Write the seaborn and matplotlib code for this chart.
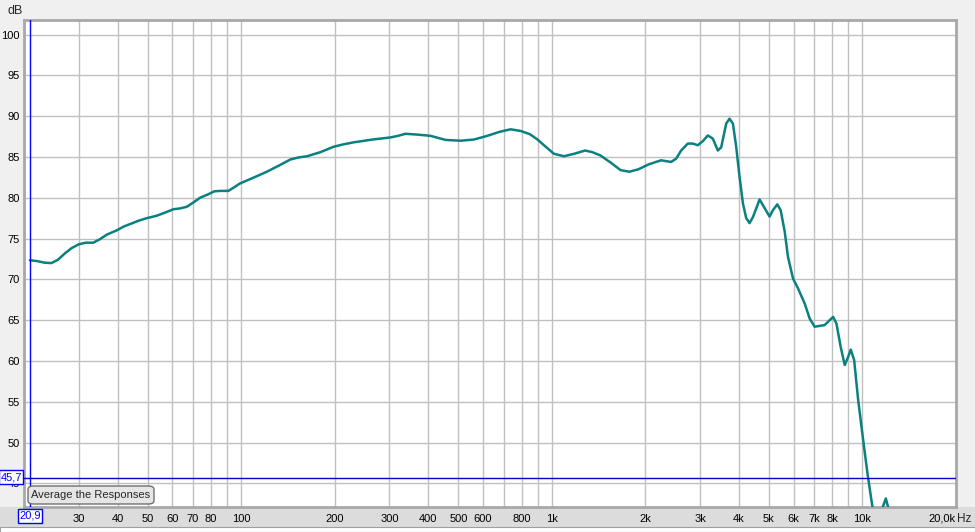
import matplotlib
matplotlib.use("Agg")
import matplotlib.pyplot as plt
from matplotlib.patches import Rectangle, FancyBboxPatch
import seaborn as sns
import pandas as pd

# ---- data ----
freq_hz = [20.9, 22.0, 23.3, 24.5, 25.7, 27.1, 28.5, 30, 31.6, 33.4, 35, 37, 39.7, 42, 44,
           46.8, 49.6, 53.4, 57, 60.5, 63.5, 66.8, 70, 73.7, 78, 82, 85.5, 91, 95, 99,
           110, 121, 133, 144, 153, 163, 180, 198, 213, 230, 265, 302, 320, 338, 370,
           407, 455, 509, 562, 620, 680, 737, 794, 850, 899, 960, 1016, 1094, 1180,
           1280, 1350, 1433, 1550, 1664, 1776, 1900, 2050, 2247, 2420, 2513, 2608,
           2740, 2843, 2951, 3063, 3179, 3299, 3423, 3510, 3642, 3733, 3828, 3922,
           4020, 4123, 4225, 4330, 4441, 4665, 4840, 5023, 5152, 5319, 5452, 5617,
           5758, 5977, 6201, 6515, 6761, 7017, 7283, 7556, 7843, 8043, 8244, 8511,
           8769, 8993, 9168, 9402, 9686, 10052, 10378, 10746, 11160, 11550, 11890,
           12300, 12900]
spl_db = [72.35, 72.25, 72.05, 72.0, 72.4, 73.2, 73.85, 74.3, 74.5, 74.5, 74.9, 75.5, 76.0, 76.5, 76.8,
          77.2, 77.5, 77.8, 78.2, 78.6, 78.7, 78.9, 79.4, 80.0, 80.4, 80.8, 80.85, 80.85, 81.3, 81.75,
          82.5, 83.2, 84.0, 84.7, 84.95, 85.1, 85.6, 86.25, 86.55, 86.8, 87.15, 87.4, 87.6, 87.85, 87.75,
          87.6, 87.1, 87.0, 87.15, 87.6, 88.1, 88.4, 88.2, 87.8, 87.15, 86.2, 85.4, 85.1, 85.4,
          85.8, 85.6, 85.2, 84.3, 83.4, 83.2, 83.5, 84.1, 84.6, 84.4, 84.8, 85.8,
          86.65, 86.65, 86.45, 86.95, 87.65, 87.25, 85.8, 86.2, 89.1, 89.7, 89.1, 86.25,
          82.6, 79.3, 77.5, 76.9, 77.65, 79.8, 78.75, 77.7, 78.5, 79.2, 78.5, 75.9,
          72.75, 70.1, 68.9, 67.05, 65.2, 64.2, 64.3, 64.4, 65.0, 65.4, 64.6, 61.7,
          59.5, 60.5, 61.4, 60.1, 55.2, 50.3, 46.2, 42.3, 40.0, 41.8, 43.15,
          41.0, 37.0]

x_tick_vals = [30, 40, 50, 60, 70, 80, 100, 200, 300, 400, 500, 600, 800, 1000,
               2000, 3000, 4000, 5000, 6000, 7000, 8000, 10000, 20000]
x_tick_labels = ["30", "40", "50", "60", "70", "80", "100", "200", "300", "400", "500",
                 "600", "800", "1k", "2k", "3k", "4k", "5k", "6k", "7k", "8k", "10k", "20,0k"]
x_grid_vals = [30, 40, 50, 60, 70, 80, 90, 100, 200, 300, 400, 500, 600, 700, 800, 900,
               1000, 2000, 3000, 4000, 5000, 6000, 7000, 8000, 9000, 10000]
y_tick_vals = [45, 50, 55, 60, 65, 70, 75, 80, 85, 90, 95, 100]

cursor_freq = 20.9
cursor_db = 45.7

df = pd.DataFrame({"freq": freq_hz, "db": spl_db})

# ---- figure ----
W, H = 975, 532
sns.set_style("white")
plt.rcParams['font.family'] = ['Liberation Sans', 'DejaVu Sans']
fig = plt.figure(figsize=(W / 100, H / 100), dpi=100, facecolor="#f0f0f0")

def fx(x):
    return x / W

def fy(y):
    return 1 - y / H

# bottom label band (behind the axes and its tick labels)
fig.patches.append(Rectangle((0, fy(527)), 1, (527 - 507) / H, transform=fig.transFigure,
                             facecolor="#dcdcdc", edgecolor="none", zorder=-2))
fig.patches.append(Rectangle((0, 0), 1, fy(527), transform=fig.transFigure,
                             facecolor="#ffffff", edgecolor="#a0a0a0", lw=0.8, zorder=-2))

L, R, T, B = 24, 956, 20, 507
ax = fig.add_axes([fx(L), fy(B), (R - L) / W, (B - T) / H])
ax.set_facecolor("white")

ax.set_xscale("log")
ax.set_xlim(20, 20000)
ax.set_ylim(42.1, 101.8)

for g in x_grid_vals:
    ax.axvline(g, color="#c0c0c0", lw=1, zorder=1)
for g in y_tick_vals:
    ax.axhline(g, color="#c0c0c0", lw=1, zorder=1)

sns.lineplot(data=df, x="freq", y="db", ax=ax, color="#0a8080", lw=1.8, zorder=3,
             estimator=None, sort=False)

ax.axvline(cursor_freq, color="#0000ff", lw=1, zorder=4)
ax.axhline(cursor_db, color="#0000c8", lw=1, zorder=4)

ax.set_xticks(x_tick_vals)
ax.set_xticklabels(x_tick_labels)
ax.xaxis.set_minor_locator(matplotlib.ticker.NullLocator())
ax.set_yticks(y_tick_vals)
ax.set_yticklabels([str(v) for v in y_tick_vals])
ax.tick_params(axis="x", length=0, pad=5, labelsize=8, colors="black")
ax.tick_params(axis="y", length=0, pad=3, labelsize=8, colors="black")
for lab in ax.get_xticklabels():
    if lab.get_text() == "20,0k":
        lab.set_horizontalalignment("right")
ax.set_xlabel("")
ax.set_ylabel("")
ax.grid(False)

for side in ["top", "right", "bottom", "left"]:
    ax.spines[side].set_color("#a8a8a8")
    ax.spines[side].set_linewidth(2)
    ax.spines[side].set_visible(True)

# axis unit labels
fig.text(fx(7), fy(11), "dB", fontsize=9, va="center", ha="left")
fig.text(fx(957), fy(519), "Hz", fontsize=8.5, va="center", ha="left")

# cursor value boxes
fig.text(fx(30), fy(516), "20,9", fontsize=8, color="#0000ff", ha="center", va="center",
         bbox=dict(boxstyle="square,pad=0.15", fc="white", ec="#0000ff", lw=1), zorder=12)
fig.text(fx(11), fy(477), "45,7", fontsize=8, color="#0000ff", ha="center", va="center",
         bbox=dict(boxstyle="square,pad=0.15", fc="white", ec="#0000ff", lw=1), zorder=12)

# button
btn = FancyBboxPatch((fx(28), fy(504)), (154 - 28) / W, (504 - 486) / H,
                     boxstyle="round,pad=0,rounding_size=0.006", transform=fig.transFigure,
                     facecolor="#e6e6e6", edgecolor="#707070", lw=1, zorder=10)
fig.patches.append(btn)
fig.text(fx(91), fy(495.5), "Average the Responses", fontsize=8, ha="center", va="center",
         zorder=11)

fig.savefig("out.png", dpi=100, facecolor=fig.get_facecolor())
